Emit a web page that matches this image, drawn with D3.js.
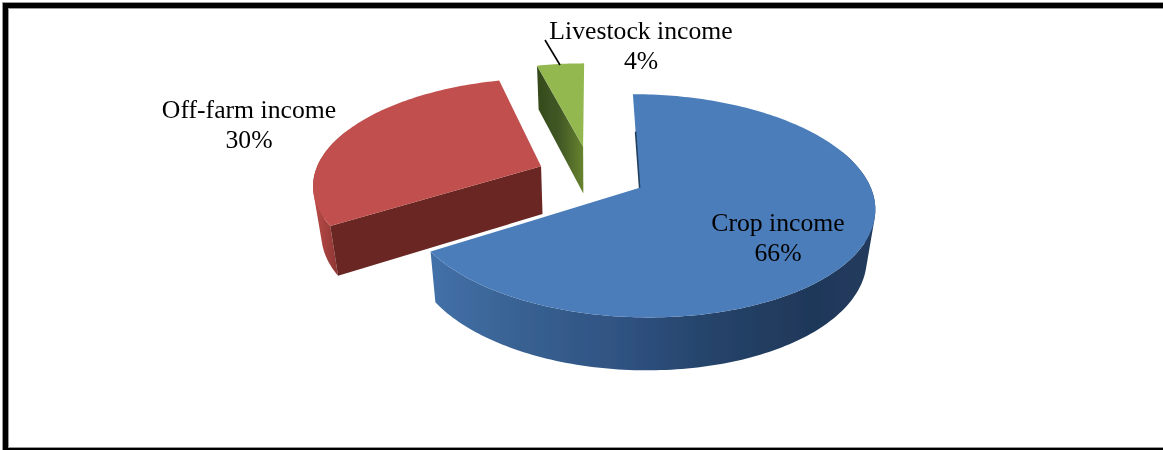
<!DOCTYPE html>
<html>
<head>
<meta charset="utf-8">
<script src="https://cdn.jsdelivr.net/npm/d3@7/dist/d3.min.js"></script>
<style>
html,body{margin:0;padding:0;background:#fff;overflow:hidden}
svg{display:block}
text{font-family:"Liberation Serif","Times New Roman",serif;font-size:25.7px;fill:#000;text-anchor:middle}
</style>
</head>
<body>
<svg id="c" width="1163" height="450"></svg>
<script>
// Data
const categories = ["Crop income", "Off-farm income", "Livestock income"];
const shares = [66, 30, 4];
const shareLabels = ["66%", "30%", "4%"];

// Styling per slice
const explode = [0.24, 0.24, 0.29];
const topColors = ["#4b7dba", "#c0504d", "#93b84f"];
const faceColors = ["#23405f", "#6a2724", "#445a26"];
const labelAt = [[778, 231], [249, 118], [641, 39]];

const W = 1163, H = 450;
const cx = 591, cy = 175.5, R = 227, S = 104.8, K = 0.158, DEPTH = 48, SHRINK = 0.97;

const svg = d3.select("#c");
const defs = svg.append("defs");
const soft = (id, sd) => defs.append("filter").attr("id", id)
  .attr("x", "-5%").attr("y", "-5%").attr("width", "110%").attr("height", "110%")
  .append("feGaussianBlur").attr("stdDeviation", sd);
soft("soft", 0.7);
soft("softText", 0.35);

const wallBlue = defs.append("linearGradient").attr("id", "wall0")
  .attr("gradientUnits", "userSpaceOnUse").attr("x1", 433).attr("x2", 876).attr("y1", 0).attr("y2", 0);
[[0, "#4270a8"], [0.2, "#386191"], [0.45, "#2e5180"], [0.6, "#27456c"], [0.85, "#1f3859"], [1, "#213b5d"]]
  .forEach(d => wallBlue.append("stop").attr("offset", d[0]).attr("stop-color", d[1]));
const wallRed = defs.append("linearGradient").attr("id", "wall1")
  .attr("gradientUnits", "userSpaceOnUse").attr("x1", 312).attr("x2", 340).attr("y1", 0).attr("y2", 0);
[[0, "#bd4d4a"], [1, "#8a3431"]]
  .forEach(d => wallRed.append("stop").attr("offset", d[0]).attr("stop-color", d[1]));
const faceGreen = defs.append("linearGradient").attr("id", "face2")
  .attr("gradientUnits", "userSpaceOnUse").attr("x1", 538).attr("x2", 584).attr("y1", 0).attr("y2", 0);
[[0, "#344a1c"], [0.5, "#435a26"], [1, "#68852f"]]
  .forEach(d => faceGreen.append("stop").attr("offset", d[0]).attr("stop-color", d[1]));

// Perspective projection of a point on the pie disc; lower = on the bottom disc
function project(u, v, lower) {
  const w = 1 - K * v;
  const x = R * u / w, y = S * v / w;
  return lower
    ? [cx + x * SHRINK, cy + y + DEPTH * Math.sqrt(1 / w)]
    : [cx + x, cy + y];
}

const arcs = d3.pie().sort(null).startAngle(0).endAngle(2 * Math.PI)(shares);
const line = d3.line();

function rim(a0, a1, ox, oy, lower) {
  const n = Math.max(4, Math.ceil((a1 - a0) / 0.02));
  return d3.range(n + 1).map(i => {
    const a = a0 + (a1 - a0) * i / n;
    return project(ox + Math.sin(a), oy - Math.cos(a), lower);
  });
}

const g = svg.append("g").attr("filter", "url(#soft)");
[2, 1, 0].forEach(i => {
  const d = arcs[i];
  const mid = (d.startAngle + d.endAngle) / 2;
  const ox = explode[i] * Math.sin(mid), oy = -explode[i] * Math.cos(mid);
  const top = rim(d.startAngle, d.endAngle, ox, oy, false);
  const bottom = rim(d.startAngle, d.endAngle, ox, oy, true);
  const apexT = project(ox, oy, false), apexB = project(ox, oy, true);

  const wallFill = i === 0 ? "url(#wall0)" : i === 1 ? "url(#wall1)" : faceColors[i];
  const faceFill = i === 2 ? "url(#face2)" : faceColors[i];

  // outer wall: only the part that faces the viewer, as one path without seams
  const angleAt = k => d.startAngle + (d.endAngle - d.startAngle) * k / (top.length - 1);
  if (i < 2) g.append("path")
    .attr("d", d3.range(top.length - 1)
      .filter(k => Math.cos(angleAt(k)) < 0.35)
      .map(k => {
        const quad = [top[k], top[k + 1], bottom[k + 1], bottom[k]];
        return line(d3.polygonArea(quad) < 0 ? quad.reverse() : quad) + "Z";
      }).join(""))
    .attr("fill", wallFill);
  // radial faces that turn towards the viewer
  if (Math.sin(d.endAngle) > 1e-6) g.append("path")
    .attr("d", line([apexT, top[top.length - 1], bottom[bottom.length - 1], apexB]) + "Z")
    .attr("fill", faceFill);
  if (Math.sin(d.startAngle) < -1e-6) g.append("path")
    .attr("d", line([apexT, top[0], bottom[0], apexB]) + "Z")
    .attr("fill", faceFill);
  // top surface
  g.append("path")
    .attr("d", line([apexT].concat(top)) + "Z")
    .attr("fill", topColors[i]);
  // a slice starting at twelve o'clock shows its face only as a thin dark edge
  if (Math.abs(Math.sin(d.startAngle)) <= 1e-6) {
    const edge = d3.interpolate(top[0], apexT);
    g.append("path")
      .attr("d", line([edge(0.4), apexT]))
      .attr("fill", "none").attr("stroke", faceColors[i]).attr("stroke-width", 1.6);
  }
});

// Leader line
svg.append("line").attr("x1", 545).attr("y1", 40).attr("x2", 560).attr("y2", 65)
  .attr("stroke", "#000").attr("stroke-width", 1.6);

// Labels
const labels = svg.append("g").attr("filter", "url(#softText)");
categories.forEach((name, i) => {
  const t = labels.append("text").attr("x", labelAt[i][0]).attr("y", labelAt[i][1]);
  t.append("tspan").attr("x", labelAt[i][0]).text(name);
  t.append("tspan").attr("x", labelAt[i][0]).attr("dy", 30).text(shareLabels[i]);
});

// Frame (open at the right edge of the picture)
svg.append("rect").attr("x", 5.5).attr("y", 5.5).attr("width", W + 20).attr("height", H - 5)
  .attr("fill", "none").attr("stroke", "#999").attr("stroke-width", 7);
svg.append("rect").attr("x", 5.5).attr("y", 5.5).attr("width", W + 20).attr("height", H - 5)
  .attr("fill", "none").attr("stroke", "#000").attr("stroke-width", 5);
</script>
</body>
</html>
